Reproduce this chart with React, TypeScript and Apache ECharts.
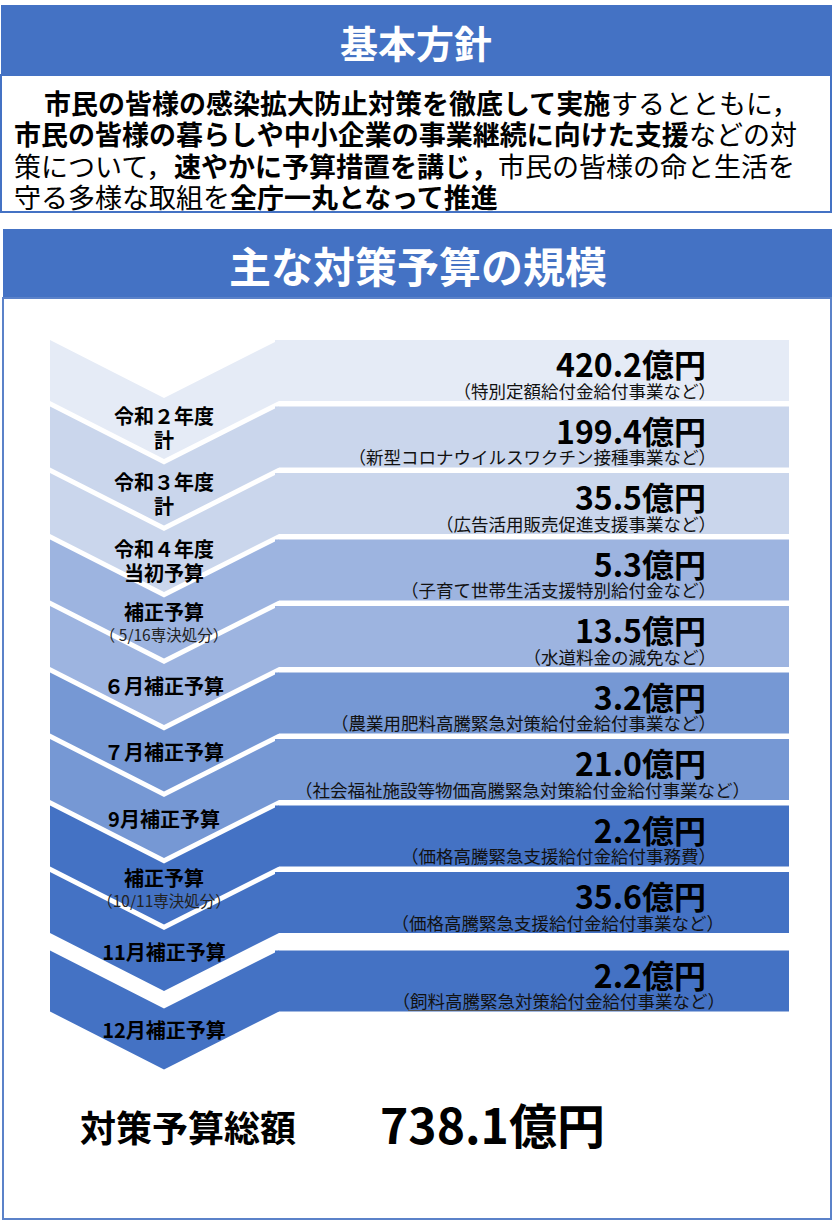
import React, { useEffect, useRef } from "react";
import * as echarts from "echarts";

// ---- data ----
const LABELS = [
  "令和２年度\n計",
  "令和３年度\n計",
  "令和４年度\n当初予算",
  "補正予算",
  "６月補正予算",
  "７月補正予算",
  "9月補正予算",
  "補正予算",
  "11月補正予算",
  "12月補正予算",
];
const SUB_LABELS = ["", "", "", "（ 5/16専決処分）", "", "", "", "（10/11専決処分）", "", ""];
const AMOUNTS = [420.2, 199.4, 35.5, 5.3, 13.5, 3.2, 21.0, 2.2, 35.6, 2.2];
const DESCRIPTIONS = [
  "（特別定額給付金給付事業など）",
  "（新型コロナウイルスワクチン接種事業など）",
  "（広告活用販売促進支援事業など）",
  "（子育て世帯生活支援特別給付金など）",
  "（水道料金の減免など）",
  "（農業用肥料高騰緊急対策給付金給付事業など）",
  "（社会福祉施設等物価高騰緊急対策給付金給付事業など）",
  "（価格高騰緊急支援給付金給付事務費）",
  "（価格高騰緊急支援給付金給付事業など）",
  "（飼料高騰緊急対策給付金給付事業など）",
];
const TITLE_1 = "基本方針";
const TITLE_2 = "主な対策予算の規模";
const TOTAL_LABEL = "対策予算総額";
const UNIT = "億円";
const POLICY_LINES = [
  "{b|市民の皆様の感染拡大防止対策を徹底して実施}{n|するとともに，}",
  "{b|市民の皆様の暮らしや中小企業の事業継続に向けた支援}{n|などの対}",
  "{n|策について，}{b|速やかに予算措置を講じ，}{n|市民の皆様の命と生活を}",
  "{n|守る多様な取組を}{b|全庁一丸となって推進}",
];

// ---- styles ----
const FONT = "'Noto Sans CJK JP', 'Noto Sans', sans-serif";
const BLUE = "#4472C4";
const ROW_COLORS = ["#E5EBF6", "#CAD6EC", "#CAD6EC", "#9DB4E0", "#9DB4E0", "#7698D4", "#7698D4", "#4472C4", "#4472C4", "#4472C4"];

export default function App() {
  const ref = useRef<HTMLDivElement>(null);
  useEffect(() => {
    if (!ref.current) return;
    const chart = echarts.init(ref.current, undefined, { renderer: "svg" });
    const total = AMOUNTS.reduce((a, b) => a + b, 0);
    const n = AMOUNTS.length;
    const subShift: Record<number, number> = { 6: 34, 8: 8, 9: 9 };

    const renderItem = (params: any, api: any) => {
      const i = api.value(1);
      const val = api.value(2);
      const c = api.coord([0, i]);
      const step = api.size([0, 1])[1];
      const top = c[1] - step / 2 + (i === n - 1 ? 12 : 0);
      const H = 61;
      const N = 58;
      const xl = 50, xc = 164, xr = 279;
      const color = ROW_COLORS[i];
      const children: any[] = [
        {
          type: "rect",
          shape: { x: 275, y: top, width: 514, height: H },
          style: { fill: color },
        },
        {
          type: "polygon",
          shape: {
            points: [
              [xl, top],
              [xc, top + N],
              [xr, top],
              [xr, top + H],
              [xc, top + H + N],
              [xl, top + H],
            ],
          },
          style: { fill: color },
        },
        {
          type: "text",
          x: 706,
          y: top + 23,
          z2: 10,
          style: {
            text: val.toFixed(1) + UNIT,
            fontFamily: FONT,
            fontWeight: "bold",
            fontSize: 32,
            fill: "#000",
            align: "right",
            verticalAlign: "middle",
          },
        },
        {
          type: "text",
          x: 716 + (subShift[i] || 0),
          y: top + 50,
          z2: 10,
          style: {
            text: DESCRIPTIONS[i],
            fontFamily: FONT,
            fontSize: 17.5,
            fill: "#111",
            align: "right",
            verticalAlign: "middle",
          },
        },
      ];
      const pStart = top + H;
      const label = LABELS[i];
      const sub = SUB_LABELS[i];
      if (sub) {
        children.push({
          type: "text",
          x: xc,
          y: pStart + 11,
          z2: 10,
          style: { text: label, fontFamily: FONT, fontWeight: "bold", fontSize: 20, fill: "#000", align: "center", verticalAlign: "middle" },
        });
        children.push({
          type: "text",
          x: xc,
          y: pStart + 33,
          z2: 10,
          style: { text: sub, fontFamily: FONT, fontSize: 15.5, fill: "#222", align: "center", verticalAlign: "middle" },
        });
      } else {
        const multi = label.indexOf("\n") >= 0;
        children.push({
          type: "text",
          x: xc,
          y: pStart + (multi ? 26 : 18),
          z2: 10,
          style: {
            text: label,
            fontFamily: FONT,
            fontWeight: "bold",
            fontSize: 20,
            lineHeight: 24,
            fill: "#000",
            align: "center",
            verticalAlign: "middle",
          },
        });
      }
      if (i === n - 1) {
        children.push({
          type: "line",
          z2: 11,
          shape: { x1: 408, y1: top + 60, x2: 680, y2: top + 60 },
          style: { stroke: "#555", lineWidth: 1 },
        });
      }
      return { type: "group", children };
    };

    const richN = { fontFamily: FONT, fontSize: 27, fill: "#000", fontWeight: "normal" };
    const richB = { fontFamily: FONT, fontSize: 27, fill: "#000", fontWeight: "bold" };
    const lineXs = [44, 14, 14, 14];
    const lineYs = [102, 133, 165, 196];

    chart.setOption({
      animation: false,
      grid: { left: 0, right: 0, top: 340, height: 665 },
      xAxis: { type: "value", min: 0, max: 832, show: false },
      yAxis: { type: "category", data: LABELS, inverse: true, show: false },
      series: [
        {
          type: "custom",
          renderItem,
          data: AMOUNTS.map((v, i) => [0, i, v]),
          encode: { x: 0, y: 1 },
          silent: true,
        },
      ],
      graphic: [
        { type: "rect", shape: { x: 1, y: 5, width: 831, height: 70 }, style: { fill: BLUE } },
        {
          type: "rect",
          shape: { x: 1, y: 75, width: 830, height: 137 },
          style: { fill: "#fff", stroke: BLUE, lineWidth: 2 },
        },
        {
          type: "text",
          x: 416,
          y: 41,
          style: { text: TITLE_1, fontFamily: FONT, fontWeight: "bold", fontSize: 38, fill: "#fff", align: "center", verticalAlign: "middle" },
        },
        ...POLICY_LINES.map((t, k) => ({
          type: "text",
          x: lineXs[k],
          y: lineYs[k],
          style: { text: t, rich: { n: richN, b: richB }, fontFamily: FONT, fontSize: 27, align: "left", verticalAlign: "middle" },
        })),
        { type: "rect", shape: { x: 3, y: 229, width: 829, height: 69 }, style: { fill: BLUE } },
        {
          type: "rect",
          shape: { x: 3, y: 298, width: 828, height: 921 },
          style: { fill: "none", stroke: "#5B82C9", lineWidth: 2 },
        },
        {
          type: "text",
          x: 418,
          y: 264,
          style: { text: TITLE_2, fontFamily: FONT, fontWeight: "bold", fontSize: 42, fill: "#fff", align: "center", verticalAlign: "middle" },
        },
        {
          type: "text",
          x: 80,
          y: 1126,
          style: { text: TOTAL_LABEL, fontFamily: FONT, fontWeight: "bold", fontSize: 36, fill: "#000", align: "left", verticalAlign: "middle" },
        },
        {
          type: "text",
          x: 380,
          y: 1123,
          style: {
            text: total.toFixed(1) + UNIT,
            fontFamily: FONT,
            fontWeight: "bold",
            fontSize: 48,
            fill: "#000",
            align: "left",
            verticalAlign: "middle",
          },
        },
      ],
    });
    return () => chart.dispose();
  }, []);
  return <div ref={ref} style={{ position: "absolute", left: 0, top: 0, width: 832, height: 1223, background: "#fff" }} />;
}
